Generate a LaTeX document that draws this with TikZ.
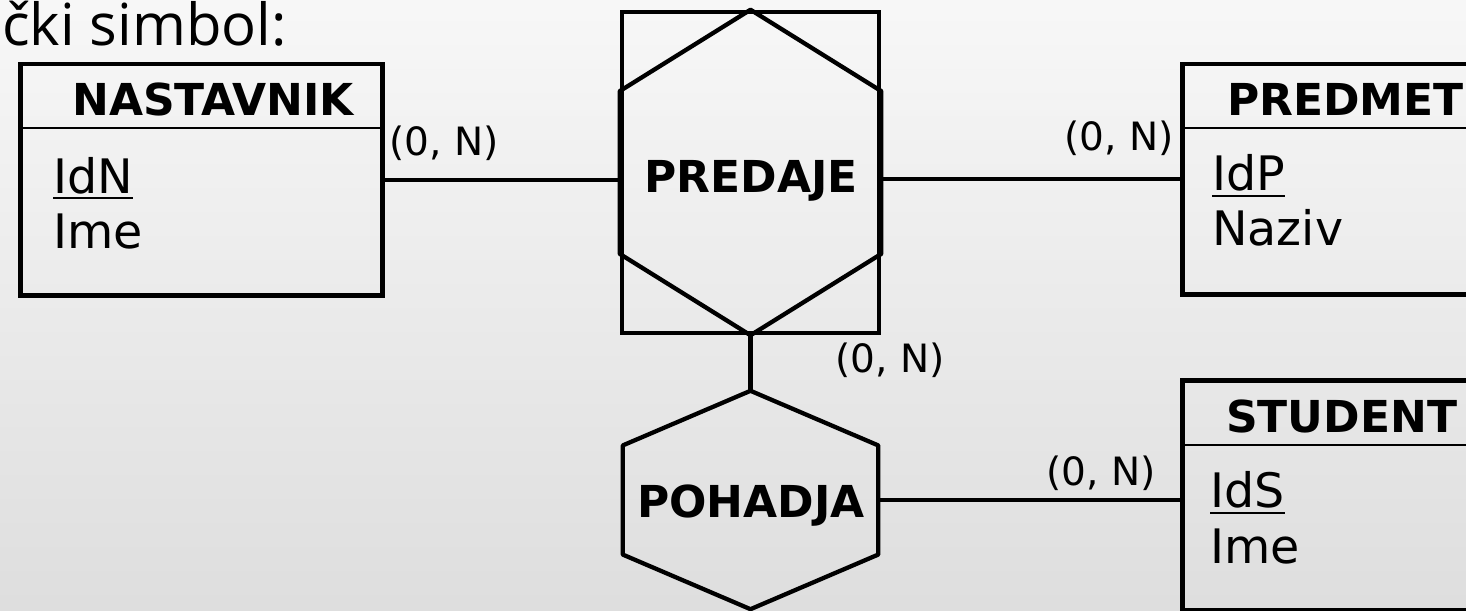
\documentclass[tikz,border=0pt]{standalone}
\usepackage{fontspec}
\setmainfont{DejaVu Sans}
\newfontfamily\slidefont{Open Sans}
\usetikzlibrary{calc,positioning}
\newcommand{\hexin}[1]{%
    \path[link, line join=round] (#1.north)
        -- ($(#1.north east)!0.25!(#1.south east)$)
        -- ($(#1.north east)!0.75!(#1.south east)$)
        -- (#1.south)
        -- ($(#1.north west)!0.75!(#1.south west)$)
        -- ($(#1.north west)!0.25!(#1.south west)$) -- cycle;}

\begin{document}
\begin{tikzpicture}[
    x=1pt, y=-1pt,
    nosep/.style={inner sep=0},
    entity/.style={draw, line width=4.5pt, anchor=north west, nosep, minimum width=326pt, minimum height=230pt},
    relbox/.style={draw, line width=4.5pt, nosep, minimum width=257pt, minimum height=321pt},
    relhex/.style={nosep, minimum width=255pt, minimum height=218pt},
    entname/.style={nosep, anchor=base west, font=\fontsize{44}{50}\selectfont\bfseries},
    relname/.style={nosep, anchor=base, font=\fontsize{44}{50}\selectfont\bfseries},
    attr/.style={nosep, anchor=base west, font=\fontsize{47.5}{54}\selectfont},
    card/.style={nosep, font=\fontsize{39}{45}\selectfont},
    link/.style={draw, line width=4.3pt, line join=miter},
    headsep/.style={draw, line width=2.8pt},
    keyline/.style={draw, line width=2.8pt}]

\clip (0,0) rectangle (1466,610);
\path[top color=black!3, bottom color=black!13] (0,0) rectangle (1466,610);

\node[nosep, anchor=base west, font=\slidefont\fontsize{58}{64}\selectfont] (slidetitle) at (2,46) {čki simbol:};

% entities
\node[entity, minimum width=362pt, minimum height=231pt] (nastavnik) at (18,62) {};
\node[entity] (predmet) at (1180,62) {};
\node[entity] (student) at (1180,378) {};

\path[headsep] ([yshift=-66pt]nastavnik.north west) -- ([yshift=-66pt]nastavnik.north east);
\path[headsep] ([yshift=-66pt]predmet.north west) -- ([yshift=-66pt]predmet.north east);
\path[headsep] ([yshift=-67pt]student.north west) -- ([yshift=-67pt]student.north east);

\node[entname] (nastavnikname) at ([xshift=54pt, yshift=-53pt]nastavnik.north west) {NASTAVNIK};
\node[attr] (idn) at ([xshift=35pt, yshift=-131pt]nastavnik.north west) {IdN};
\node[attr] (imen) at ([xshift=35pt, yshift=-186pt]nastavnik.north west) {Ime};

\node[entname] (predmetname) at ([xshift=47pt, yshift=-53pt]predmet.north west) {PREDMET};
\node[attr] (idp) at ([xshift=32pt, yshift=-128pt]predmet.north west) {IdP};
\node[attr] (naziv) at ([xshift=32pt, yshift=-183pt]predmet.north west) {Naziv};

\node[entname] (studentname) at ([xshift=46pt, yshift=-54pt]student.north west) {STUDENT};
\node[attr] (ids) at ([xshift=30pt, yshift=-129pt]student.north west) {IdS};
\node[attr] (imes) at ([xshift=30pt, yshift=-185pt]student.north west) {Ime};

\path[keyline] ([yshift=-5pt]idn.base west) -- ([yshift=-5pt]idn.base east);
\path[keyline] ([yshift=-6pt]idp.base west) -- ([yshift=-6pt]idp.base east);
\path[keyline] ([yshift=-6pt]ids.base west) -- ([yshift=-6pt]ids.base east);

% relationships
\node[relbox] (predaje) at (750.5,172.5) {};
\hexin{predaje}
\node[relname] (predajename) at (751,192) {PREDAJE};

\node[relhex] (pohadja) at (750.5,500) {};
\hexin{pohadja}
\node[relname] (pohadjaname) at (751,517) {POHADJA};

% connectors
\path[link] (nastavnik.east) -- (nastavnik.east -| predaje.west);
\path[link] (predmet.west) -- (predmet.west -| predaje.east);
\path[link] (predaje.south) -- (pohadja.north);
\path[link] (pohadja.east) -- (pohadja.east -| student.west);

% cardinalities
\node[card, anchor=base west] (cardnastavnik) at ([xshift=5pt, yshift=-93pt]nastavnik.north east) {(0, N)};
\node[card, anchor=base east] (cardpredmet) at ([xshift=-6pt, yshift=-88pt]predmet.north west) {(0, N)};
\node[card, anchor=base west] (cardpredaje) at ([xshift=-46pt, yshift=-37pt]predaje.south east) {(0, N)};
\node[card, anchor=base east] (cardstudent) at ([xshift=-24pt, yshift=-107pt]student.north west) {(0, N)};

\end{tikzpicture}
\end{document}
